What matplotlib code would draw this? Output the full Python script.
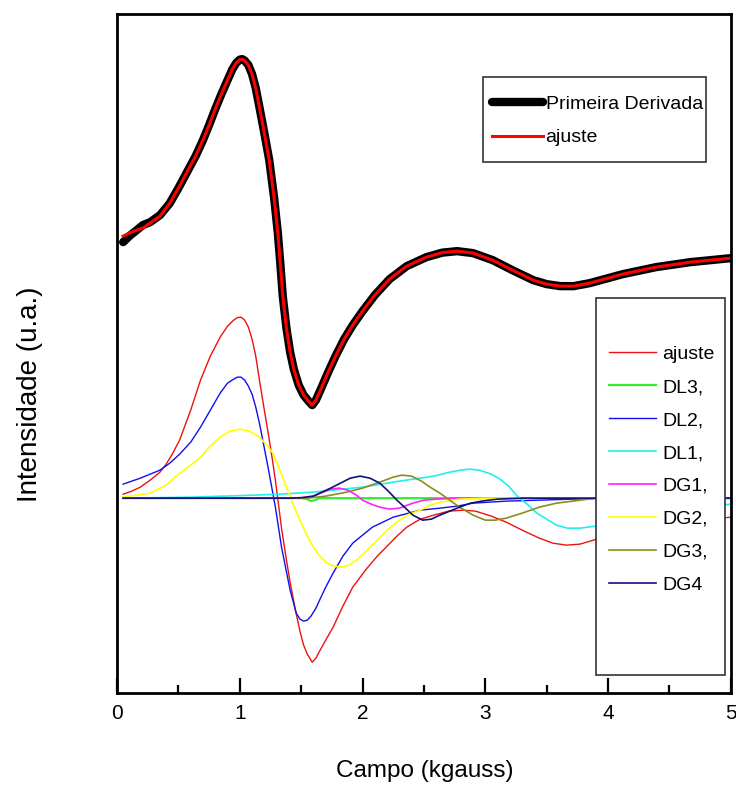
import matplotlib
matplotlib.use("Agg")
import matplotlib.pyplot as plt
from matplotlib.patches import Rectangle

plt.rcParams['font.family'] = ['Liberation Sans', 'DejaVu Sans']

# espectro experimental (primeira derivada) e ajuste total, deslocados para cima
campo_sup = [0.05, 0.10, 0.16, 0.21, 0.27, 0.35, 0.43, 0.50, 0.57, 0.64,
             0.70, 0.75, 0.80, 0.85, 0.90, 0.94, 0.97, 1.00, 1.02, 1.04,
             1.07, 1.10, 1.13, 1.16, 1.20, 1.24, 1.28, 1.31, 1.33, 1.35,
             1.38, 1.41, 1.44, 1.48, 1.52, 1.56, 1.59, 1.62, 1.66, 1.72,
             1.78, 1.85, 1.92, 2.00, 2.10, 2.22, 2.36, 2.52, 2.65, 2.77,
             2.90, 3.06, 3.22, 3.39, 3.50, 3.61, 3.72, 3.85, 4.00, 4.12,
             4.39, 4.67, 5.00]
derivada = [2.56, 2.62, 2.68, 2.73, 2.76, 2.83, 2.95, 3.10, 3.26, 3.42,
            3.58, 3.73, 3.89, 4.04, 4.18, 4.29, 4.35, 4.385, 4.39, 4.375,
            4.33, 4.24, 4.10, 3.91, 3.65, 3.38, 3.00, 2.65, 2.35, 2.02,
            1.70, 1.46, 1.29, 1.13, 1.03, 0.97, 0.93, 0.98, 1.09, 1.26,
            1.42, 1.59, 1.73, 1.87, 2.03, 2.19, 2.32, 2.41, 2.455, 2.47,
            2.45, 2.38, 2.28, 2.18, 2.14, 2.12, 2.12, 2.15, 2.20, 2.24,
            2.31, 2.36, 2.40]
ajuste_sup = [2.62, 2.65, 2.68, 2.70, 2.75, 2.82, 2.95, 3.10, 3.26, 3.42,
              3.58, 3.73, 3.89, 4.04, 4.18, 4.29, 4.35, 4.385, 4.39, 4.375,
              4.33, 4.24, 4.10, 3.91, 3.65, 3.38, 3.00, 2.65, 2.35, 2.02,
              1.70, 1.46, 1.29, 1.13, 1.03, 0.97, 0.93, 0.98, 1.09, 1.26,
              1.42, 1.59, 1.73, 1.87, 2.03, 2.19, 2.32, 2.41, 2.455, 2.47,
              2.45, 2.38, 2.28, 2.18, 2.14, 2.12, 2.12, 2.15, 2.20, 2.24,
              2.31, 2.36, 2.40]

# ajuste total (componentes somadas)
campo_aj = [0.05, 0.12, 0.19, 0.27, 0.35, 0.40, 0.45, 0.51, 0.60, 0.68,
            0.76, 0.84, 0.90, 0.95, 0.98, 1.01, 1.04, 1.07, 1.10, 1.13,
            1.16, 1.20, 1.23, 1.26, 1.29, 1.34, 1.38, 1.41, 1.45, 1.49,
            1.52, 1.55, 1.57, 1.59, 1.62, 1.65, 1.70, 1.76, 1.84, 1.92,
            2.03, 2.12, 2.20, 2.28, 2.36, 2.47, 2.58, 2.70, 2.82, 2.92,
            3.05, 3.17, 3.30, 3.44, 3.55, 3.66, 3.77, 3.88, 4.00, 4.30,
            4.60, 5.00]
ajuste = [0.04, 0.07, 0.11, 0.18, 0.26, 0.34, 0.44, 0.58, 0.88, 1.18,
          1.42, 1.61, 1.72, 1.78, 1.805, 1.81, 1.78, 1.71, 1.59, 1.42,
          1.18, 0.88, 0.66, 0.43, 0.18, -0.30, -0.62, -0.84, -1.10, -1.33,
          -1.47, -1.56, -1.60, -1.64, -1.60, -1.53, -1.42, -1.29, -1.08, -0.89,
          -0.71, -0.58, -0.48, -0.38, -0.29, -0.21, -0.17, -0.13, -0.12, -0.13,
          -0.18, -0.24, -0.32, -0.40, -0.45, -0.47, -0.46, -0.42, -0.38, -0.30,
          -0.24, -0.19]

# DL3 - derivada de lorentziana estreita
campo_dl3 = [0.05, 1.50, 1.55, 1.58, 1.61, 1.65, 5.00]
dl3 = [0.0, 0.0, -0.01, -0.03, -0.02, 0.0, 0.0]

# DL2 - derivada de lorentziana principal
campo_dl2 = [0.05, 0.12, 0.19, 0.27, 0.35, 0.43, 0.51, 0.60, 0.68, 0.76,
             0.84, 0.90, 0.95, 0.98, 1.01, 1.04, 1.07, 1.10, 1.13, 1.16,
             1.20, 1.23, 1.26, 1.29, 1.34, 1.41, 1.46, 1.49, 1.52, 1.55,
             1.58, 1.62, 1.65, 1.70, 1.76, 1.84, 1.92, 2.08, 2.25, 2.47,
             2.63, 2.77, 2.90, 3.17, 3.44, 3.71, 4.00, 5.00]
dl2 = [0.14, 0.17, 0.20, 0.24, 0.28, 0.35, 0.44, 0.56, 0.71, 0.88,
       1.05, 1.15, 1.19, 1.21, 1.21, 1.18, 1.12, 1.04, 0.91, 0.75,
       0.50, 0.31, 0.11, -0.09, -0.49, -0.92, -1.15, -1.21, -1.23, -1.22,
       -1.18, -1.10, -1.02, -0.89, -0.75, -0.58, -0.45, -0.29, -0.19, -0.12,
       -0.10, -0.08, -0.05, -0.03, -0.02, -0.01, 0.0, 0.0]

# DL1 - derivada de lorentziana larga
campo_dl1 = [0.05, 0.60, 1.00, 1.33, 1.60, 2.00, 2.30, 2.58, 2.71, 2.80,
             2.87, 2.95, 3.05, 3.12, 3.19, 3.26, 3.34, 3.42, 3.50, 3.58,
             3.67, 3.77, 3.90, 4.00, 4.30, 4.60, 5.00]
dl1 = [0.0, 0.01, 0.025, 0.04, 0.06, 0.11, 0.17, 0.22, 0.26, 0.28,
       0.29, 0.28, 0.24, 0.19, 0.12, 0.02, -0.06, -0.15, -0.21, -0.27,
       -0.30, -0.30, -0.28, -0.26, -0.18, -0.11, -0.06]

# DG1 - derivada de gaussiana
campo_dg1 = [0.05, 1.50, 1.60, 1.68, 1.74, 1.81, 1.88, 1.95, 2.00, 2.07,
             2.14, 2.22, 2.30, 2.41, 2.50, 2.60, 2.75, 5.00]
dg1 = [0.0, 0.0, 0.02, 0.06, 0.09, 0.10, 0.08, 0.03, -0.02, -0.06,
       -0.09, -0.11, -0.10, -0.05, -0.02, -0.01, 0.0, 0.0]

# DG2
campo_dg2 = [0.05, 0.27, 0.40, 0.51, 0.60, 0.68, 0.76, 0.84, 0.92, 1.00,
             1.08, 1.16, 1.22, 1.27, 1.33, 1.38, 1.44, 1.49, 1.55, 1.60,
             1.65, 1.71, 1.77, 1.83, 1.89, 1.95, 2.03, 2.12, 2.20, 2.30,
             2.38, 2.47, 2.55, 2.63, 2.79, 3.00, 5.00]
dg2 = [0.01, 0.05, 0.13, 0.25, 0.33, 0.41, 0.52, 0.61, 0.67, 0.69,
       0.67, 0.61, 0.53, 0.45, 0.27, 0.11, -0.08, -0.22, -0.38, -0.49,
       -0.58, -0.65, -0.68, -0.69, -0.67, -0.62, -0.53, -0.42, -0.32, -0.22,
       -0.16, -0.12, -0.07, -0.04, -0.01, 0.0, 0.0]

# DG3
campo_dg3 = [0.05, 1.55, 1.70, 1.87, 2.00, 2.14, 2.25, 2.32, 2.40, 2.48,
             2.55, 2.63, 2.71, 2.79, 2.90, 3.00, 3.08, 3.17, 3.30, 3.44,
             3.58, 3.71, 3.90, 5.00]
dg3 = [0.0, 0.0, 0.02, 0.06, 0.10, 0.16, 0.21, 0.23, 0.22, 0.17,
       0.11, 0.05, -0.02, -0.09, -0.17, -0.22, -0.22, -0.20, -0.15, -0.09,
       -0.05, -0.03, 0.0, 0.0]

# DG4
campo_dg4 = [0.05, 1.40, 1.50, 1.60, 1.65, 1.74, 1.82, 1.90, 1.98, 2.06,
             2.14, 2.21, 2.28, 2.35, 2.41, 2.49, 2.56, 2.63, 2.71, 2.79,
             2.88, 2.97, 3.10, 3.30, 5.00]
dg4 = [0.0, 0.0, 0.005, 0.02, 0.05, 0.10, 0.15, 0.20, 0.22, 0.20,
       0.15, 0.07, -0.02, -0.10, -0.17, -0.22, -0.21, -0.17, -0.13, -0.09,
       -0.05, -0.03, -0.01, 0.0, 0.0]

componentes = [
    (campo_aj, ajuste, 'ajuste', '#ee1111', 1.0),
    (campo_dl3, dl3, 'DL3,', '#33ee33', 1.6),
    (campo_dl2, dl2, 'DL2,', '#1010ee', 1.0),
    (campo_dl1, dl1, 'DL1,', '#22eeee', 1.2),
    (campo_dg1, dg1, 'DG1,', '#ff22ff', 1.2),
    (campo_dg2, dg2, 'DG2,', '#ffff00', 1.2),
    (campo_dg3, dg3, 'DG3,', '#8c8c1e', 1.2),
    (campo_dg4, dg4, 'DG4', '#10107a', 1.2),
]

fig = plt.figure(figsize=(7.36, 7.85), dpi=100)
ax = fig.add_axes([0.159, 0.117, 0.834, 0.865])

l_exp, = ax.plot(campo_sup, derivada, color='black', lw=6,
                 solid_capstyle='round', solid_joinstyle='round',
                 label='Primeira Derivada')
l_fit, = ax.plot(campo_sup, ajuste_sup, color='red', lw=2.2,
                 solid_joinstyle='round', label='ajuste')

linhas = []
for xs, ys, nome, cor, lw in componentes:
    ln, = ax.plot(xs, ys, color=cor, lw=lw, solid_joinstyle='round', label=nome)
    linhas.append(ln)

ax.set_xlim(0, 5)
ax.set_ylim(-1.95, 4.84)
ax.set_xticks([0, 1, 2, 3, 4, 5])
ax.set_xticks([0.5, 1.5, 2.5, 3.5, 4.5], minor=True)
ax.set_yticks([])
ax.tick_params(axis='x', which='major', direction='in', length=11,
               width=1.6, labelsize=15, pad=8)
ax.tick_params(axis='x', which='minor', direction='in', length=6, width=1.6)
for s in ax.spines.values():
    s.set_linewidth(2)

# caixas das legendas
ax.add_patch(Rectangle((0.596, 0.782), 0.363, 0.125, transform=ax.transAxes,
                       facecolor='white', edgecolor='#333333', lw=1.2, zorder=5))
ax.add_patch(Rectangle((0.780, 0.0265), 0.210, 0.555, transform=ax.transAxes,
                       facecolor='white', edgecolor='#333333', lw=1.2, zorder=5))

leg1 = ax.legend(handles=[l_exp, l_fit], loc='upper left',
                 bbox_to_anchor=(0.611, 0.880), frameon=False, borderpad=0,
                 fontsize=14, handlelength=2.6, handletextpad=0.15,
                 labelspacing=0.8, borderaxespad=0)
leg1.set_zorder(6)
ax.add_artist(leg1)

leg2 = ax.legend(handles=linhas, loc='upper left',
                 bbox_to_anchor=(0.801, 0.512), frameon=False, borderpad=0,
                 fontsize=14, handlelength=2.45, handletextpad=0.3,
                 labelspacing=0.79, borderaxespad=0)
leg2.set_zorder(6)

fig.text(425 / 736, 1 - 771 / 785, 'Campo (kgauss)', fontsize=17.5,
         ha='center', va='center')
fig.text(30 / 736, 1 - 394 / 785, 'Intensidade (u.a.)', fontsize=20,
         rotation=90, ha='center', va='center')

fig.savefig('out.png', dpi=100)
